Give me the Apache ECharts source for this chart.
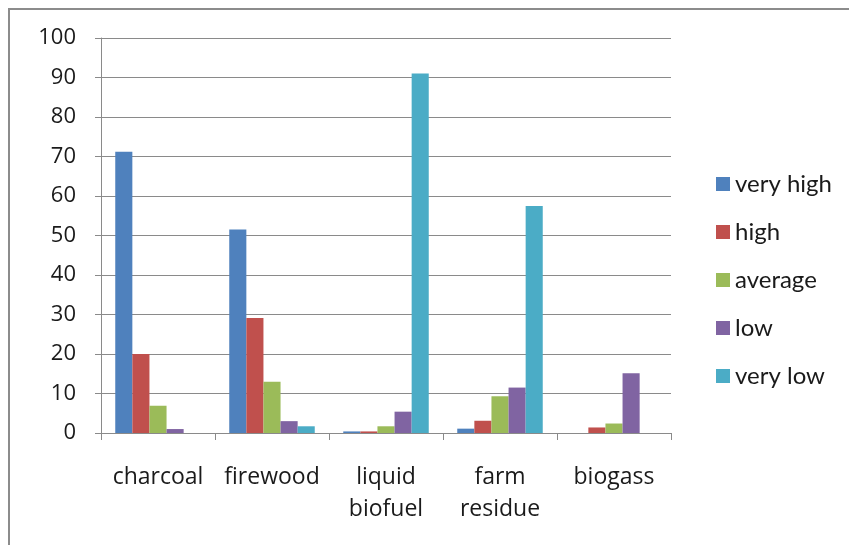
<!DOCTYPE html>
<html>
<head>
<meta charset="utf-8">
<script src="https://cdn.jsdelivr.net/npm/echarts@6/dist/echarts.min.js"></script>
<style>
  html, body { margin: 0; padding: 0; background: #fff; }
  #frame { position: absolute; left: 8px; top: 8px; width: 841px; height: 537px;
           border-left: 2px solid #8c8c8c; border-top: 2px solid #8c8c8c; box-sizing: border-box; }
  #chart { position: absolute; left: 0; top: 0; width: 849px; height: 545px; }
</style>
</head>
<body>
<div id="frame"></div>
<div id="chart"></div>
<script>
// Fuel categories on the x axis
const categories = ['charcoal', 'firewood', 'liquid\nbiofuel', 'farm\nresidue', 'biogass'];
// Rating series (percent of respondents)
const veryHigh = [71.2, 51.5, 0.4, 1.1, 0];
const high     = [20.0, 29.1, 0.4, 3.1, 1.4];
const average  = [6.9, 13.0, 1.7, 9.3, 2.4];
const low      = [1.0, 3.0, 5.4, 11.5, 15.1];
const veryLow  = [0, 1.7, 91.0, 57.5, 0];
const seriesNames = ['very high', 'high', 'average', 'low', 'very low'];
const seriesColors = ['#4f81bd', '#c0504d', '#9bbb59', '#8064a2', '#4bacc6'];
const yTicks = { min: 0, max: 100, interval: 10 };

const seriesData = [veryHigh, high, average, low, veryLow];
const chart = echarts.init(document.getElementById('chart'), null, { renderer: 'canvas' });
chart.setOption({
  animation: false,
  textStyle: { fontFamily: 'Open Sans' },
  grid: { left: 101, right: 178, top: 38, bottom: 112 },
  legend: {
    orient: 'vertical', left: 711, top: 167, itemGap: 24,
    itemWidth: 14, itemHeight: 14, icon: 'rect',
    textStyle: { fontFamily: 'Lato', fontSize: 24, color: '#1a1a1a', padding: [0, 0, 0, 0] },
    data: seriesNames
  },
  xAxis: {
    type: 'category', data: categories,
    axisLine: { lineStyle: { color: '#8a8a8a', width: 1 } },
    axisTick: { show: true, length: 7, lineStyle: { color: '#8a8a8a' } },
    axisLabel: { fontSize: 23, color: '#1a1a1a', margin: 28, lineHeight: 32, interval: 0 }
  },
  yAxis: {
    type: 'value', min: yTicks.min, max: yTicks.max, interval: yTicks.interval,
    axisLine: { show: true, lineStyle: { color: '#8a8a8a', width: 1 } },
    axisTick: { show: true, length: 6, lineStyle: { color: '#8a8a8a' } },
    axisLabel: { fontSize: 22, color: '#1a1a1a', margin: 25 },
    splitLine: { lineStyle: { color: '#8a8a8a', width: 1 } }
  },
  series: seriesNames.map((name, i) => ({
    name, type: 'bar', data: seriesData[i],
    barGap: '0%', barCategoryGap: '25%',
    itemStyle: { color: seriesColors[i] }
  }))
});
</script>
</body>
</html>
